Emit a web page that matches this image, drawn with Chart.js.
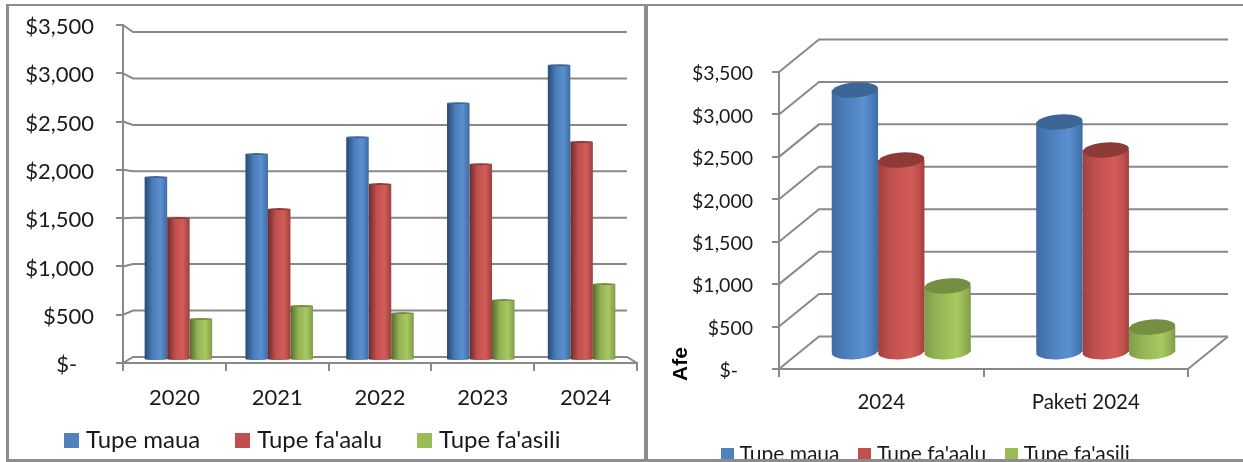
<!DOCTYPE html>
<html>
<head>
<meta charset="utf-8">
<script src="https://cdn.jsdelivr.net/npm/chart.js@4"></script>
<style>
  html, body { margin: 0; padding: 0; background: #fff; overflow: hidden; }
  #page { position: relative; width: 1243px; height: 462px; overflow: hidden; }
  .panel { position: absolute; top: 0; overflow: hidden; height: 459px; }
  .line { position: absolute; background: #8c8c8c; }
  canvas { display: block; }
</style>
</head>
<body>
<div id="page">
  <div class="panel" style="left:0;width:646px"><canvas id="trend" width="646" height="520"></canvas></div>
  <div class="panel" style="left:648px;width:595px"><canvas id="budget" width="595" height="520"></canvas></div>
  <div class="line" style="left:6px;top:4px;width:1237px;height:2px"></div>
  <div class="line" style="left:6px;top:4px;width:3px;height:457px"></div>
  <div class="line" style="left:644px;top:4px;width:4px;height:457px"></div>
  <div class="line" style="left:6px;top:459px;width:1237px;height:3px"></div>
</div>
<script>
const GRID = '#898989';
const FONT = 'Lato';

const years = ['2020', '2021', '2022', '2023', '2024'];
const maua = [1931, 2174, 2353, 2712, 3113];
const faaalu = [1498, 1593, 1857, 2068, 2301];
const faasili = [432, 569, 495, 632, 801];

const budgets = ['2024', 'Paketi 2024'];
const budgetMaua = [3096, 2719];
const budgetFaaalu = [2271, 2389];
const budgetFaasili = [787, 303];

const seriesNames = ['Tupe maua', "Tupe fa'aalu", "Tupe fa'asili"];
const seriesColors = ['#4f81bd', '#c0504d', '#9bbb59'];
const yTickLabels = ['$-', '$500', '$1,000', '$1,500', '$2,000', '$2,500', '$3,000', '$3,500'];

// dark edge, body, highlight, far edge, cap
const shades = {
    '#4f81bd': ['#264a73', '#4a7cb8', '#5b8fd0', '#3f6ba3', '#3d6595'],
    '#c0504d': ['#6b2b29', '#c0504d', '#d25c58', '#9c413e', '#8e3b38'],
    '#9bbb59': ['#546a2f', '#93b254', '#a6c960', '#7f9c48', '#748e42']
};

// legend box is a canvas so the swatch can sit closer to the text than chart.js leaves it
function swatch(color, size) {
    const c = document.createElement('canvas');
    c.width = size;
    c.height = size;
    const g = c.getContext('2d');
    g.fillStyle = color;
    g.fillRect(0, 0, size, size);
    return c;
}

// pretend-3d: moves points back into the box, t=0 front face, t=1 back wall
function project(d, x, y, t) {
    return [
        x + t * (d.dx + (d.cx - x) * d.sk),
        y + t * (d.dy + (d.cy - y) * d.sk)
    ];
}

function line(ctx, pts) {
    ctx.beginPath();
    pts.forEach((p, i) => i ? ctx.lineTo(p[0], p[1]) : ctx.moveTo(p[0], p[1]));
    ctx.stroke();
}

const box3d = {
    id: 'box3d',
    afterLayout(chart, args, opts) {
        // the legend would otherwise push the axis up, put it where it goes by hand
        const lg = chart.legend;
        const h = lg.bottom - lg.top;
        lg.left = opts.legendX;
        lg.right = chart.width;
        lg.top = opts.legendY - chart.options.plugins.legend.labels.padding;
        lg.bottom = lg.top + h;
    },
    afterDatasetsUpdate(chart, args, opts) {
        const d = opts;
        chart.data.datasets.forEach((ds, i) => {
            const s = shades[seriesColors[i]];
            chart.getDatasetMeta(i).data.forEach((el) => {
                const top = project(d, el.x, el.y, 0.5);
                const bottom = project(d, el.x, el.base, 0.5);
                const w = el.width * (1 - 0.5 * d.sk);
                el.x = top[0];
                el.y = top[1];
                el.base = bottom[1];
                el.width = w;
                const grad = chart.ctx.createLinearGradient(el.x - w / 2, 0, el.x + w / 2, 0);
                grad.addColorStop(0, d.softEdge ? s[3] : s[0]);
                grad.addColorStop(d.softEdge ? 0.25 : 0.35, s[1]);
                grad.addColorStop(0.7, s[2]);
                if (d.softEdge) grad.addColorStop(0.88, s[1]);
                grad.addColorStop(1, s[3]);
                el.options = Object.assign({}, el.options, { backgroundColor: grad, borderWidth: 0 });
            });
        });
    },
    beforeDraw(chart, args, opts) {
        // tick labels sit a little under their tick in the original
        chart.scales.y.getLabelItems(chart.chartArea).forEach((it) => {
            it.options.translation[1] += opts.labelDy;
        });
    },
    beforeDatasetsDraw(chart, args, opts) {
        const d = opts;
        const ctx = chart.ctx;
        const { left, right } = chart.scales.x;
        const ys = chart.scales.y;
        ctx.save();
        ctx.strokeStyle = GRID;
        ctx.lineWidth = 2;
        ys.ticks.forEach((t) => {
            const y = ys.getPixelForValue(t.value);
            line(ctx, [[left, y], project(d, left, y, 1), project(d, right, y, 1)]);
        });
        const y0 = ys.getPixelForValue(0);
        line(ctx, [project(d, right, y0, 1), [right, y0]]);
        ctx.restore();
    },
    afterDatasetsDraw(chart, args, opts) {
        const ctx = chart.ctx;
        chart.data.datasets.forEach((ds, i) => {
            const s = shades[seriesColors[i]];
            chart.getDatasetMeta(i).data.forEach((el) => {
                ctx.save();
                ctx.fillStyle = el.options.backgroundColor;
                ctx.beginPath();
                ctx.ellipse(el.x, el.base, el.width / 2, opts.ry, opts.tilt, 0, Math.PI * 2);
                ctx.fill();
                ctx.fillStyle = s[4];
                ctx.beginPath();
                ctx.ellipse(el.x, el.y, el.width / 2, opts.ry, opts.tilt, 0, Math.PI * 2);
                ctx.fill();
                ctx.restore();
            });
        });
        if (opts.title) {
            ctx.save();
            ctx.translate(opts.titleX, opts.titleY);
            ctx.rotate(-Math.PI / 2);
            ctx.font = 'bold 21px "Liberation Sans"';
            ctx.fillStyle = '#000';
            ctx.textAlign = 'center';
            ctx.textBaseline = 'middle';
            ctx.fillText(opts.title, 0, 0);
            ctx.restore();
        }
    }
};

function makeChart(id, cats, a, b, c, o) {
    return new Chart(document.getElementById(id), {
        type: 'bar',
        data: {
            labels: cats,
            datasets: [a, b, c].map((vals, i) => ({
                label: seriesNames[i],
                data: vals,
                backgroundColor: seriesColors[i],
                borderWidth: 0,
                categoryPercentage: o.catPct,
                barPercentage: 1
            }))
        },
        options: {
            responsive: false,
            animation: false,
            devicePixelRatio: 1,
            layout: { padding: o.padding },
            plugins: {
                tooltip: { enabled: false },
                box3d: o.depth,
                legend: {
                    position: 'bottom',
                    align: 'start',
                    labels: {
                        color: '#1a1a1a',
                        font: { family: FONT, size: o.legendSize },
                        padding: o.legendGap,
                        usePointStyle: true,
                        pointStyleWidth: o.legendBoxSlot,
                        boxHeight: o.legendSize,
                        generateLabels: (chart) => chart.data.datasets.map((ds, i) => ({
                            text: ds.label,
                            datasetIndex: i,
                            lineWidth: 0,
                            fontColor: '#1a1a1a',
                            pointStyle: swatch(seriesColors[i], o.swatch)
                        }))
                    }
                }
            },
            scales: {
                x: {
                    afterFit: (s) => { s.height = o.xHeight; },
                    border: { color: GRID, width: 2 },
                    grid: { color: GRID, lineWidth: 2, drawOnChartArea: false, tickLength: o.xTick },
                    ticks: {
                        color: '#1a1a1a',
                        font: { family: FONT, size: o.xSize },
                        padding: o.xPad,
                        maxRotation: 0,
                        autoSkip: false
                    }
                },
                y: {
                    min: 0,
                    max: 3500,
                    afterFit: (s) => {
                        s.width = o.yWidth;
                        s.paddingTop = 0;
                        s.paddingBottom = 0;
                    },
                    border: { color: GRID, width: 2 },
                    grid: { color: GRID, lineWidth: 2, drawOnChartArea: false, tickLength: 7 },
                    ticks: {
                        stepSize: 500,
                        color: '#1a1a1a',
                        font: { family: FONT, size: o.ySize },
                        padding: o.yPad,
                        callback: (v) => yTickLabels[v / 500] + (v === 0 ? '\u00a0\u00a0\u00a0' : '')
                    }
                }
            }
        },
        plugins: [box3d]
    });
}

document.fonts.load('22px Lato').finally(() => {
    makeChart('trend', years, maua, faaalu, faasili, {
        catPct: 0.67,
        padding: { left: 0, right: 9, top: 25, bottom: 23 },
        yWidth: 123,
        xHeight: 60,
        xTick: 8,
        xPad: 14,
        xSize: 22,
        ySize: 22,
        yPad: 22,
        legendSize: 24,
        legendGap: 40,
        legendBoxSlot: 5,
        swatch: 15,
        depth: { dx: 0, dy: 0, sk: 0.039, cx: 380, cy: 207, ry: 1, tilt: 0, labelDy: 2, legendX: 29, legendY: 428 }
    });
    makeChart('budget', budgets, budgetMaua, budgetFaaalu, budgetFaasili, {
        catPct: 0.68,
        padding: { left: 0, right: 55, top: 72, bottom: 37 },
        yWidth: 131,
        xHeight: 60,
        xTick: 8,
        xPad: 13,
        xSize: 20.5,
        ySize: 19.5,
        yPad: 19,
        legendSize: 21,
        legendGap: 23,
        legendBoxSlot: 4,
        swatch: 13,
        depth: { dx: 40, dy: -32.5, sk: 0, cx: 0, cy: 0, ry: 7.5, tilt: -0.08, softEdge: true, labelDy: 2, title: 'Afe', titleX: 33.5, titleY: 364, legendX: 54, legendY: 444 }
    });
});
</script>
</body>
</html>
